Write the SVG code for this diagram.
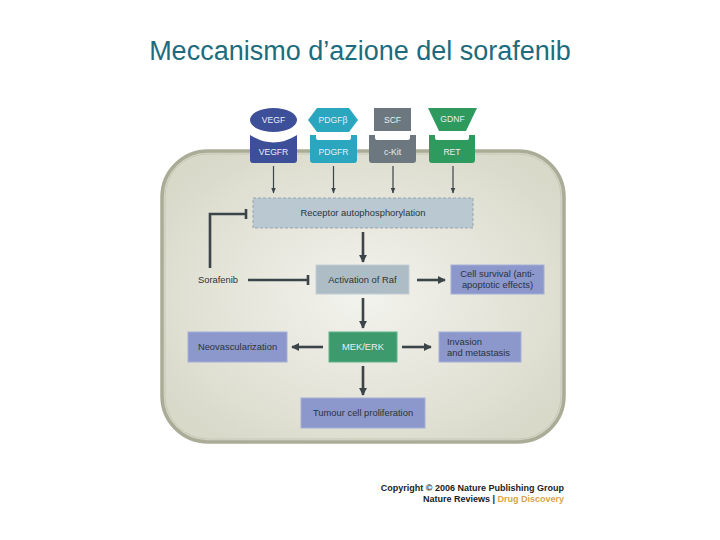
<svg xmlns="http://www.w3.org/2000/svg" width="720" height="540" viewBox="0 0 720 540">
<defs>
<radialGradient id="cellg" cx="50%" cy="50%" r="60%">
<stop offset="0" stop-color="#f3f3ee"/>
<stop offset="1" stop-color="#d9d9ca"/>
</radialGradient>
<marker id="ah" viewBox="0 0 10 10" refX="9" refY="5" markerWidth="3.2" markerHeight="3.2" orient="auto">
<path d="M0,0 L10,5 L0,10 Z" fill="#3b4448"/>
</marker>
<marker id="ahs" viewBox="0 0 10 10" refX="9" refY="5" markerWidth="5" markerHeight="5" orient="auto">
<path d="M0,1 L10,5 L0,9 Z" fill="#3b4448"/>
</marker>
</defs>
<style>
.t{font-family:"Liberation Sans",Arial,sans-serif;font-size:9.4px;fill:#2d3438}
.tw{font-family:"Liberation Sans",Arial,sans-serif;font-size:8.6px;fill:#e8eef4}
.c{stroke:#3b4448;stroke-width:2.6;fill:none}
.cs{stroke:#3b4448;stroke-width:1.2;fill:none}
.purple{fill:#8c97cc;stroke:#a6afd8;stroke-width:1}
</style>
<rect width="720" height="540" fill="#ffffff"/>
<text x="360" y="60" text-anchor="middle" font-family="Liberation Sans,Arial,sans-serif" font-size="27" fill="#1d6c7e">Meccanismo d’azione del sorafenib</text>

<g id="cell">
<rect x="162" y="151" width="402" height="291" rx="46" ry="46" fill="url(#cellg)" stroke="#abac97" stroke-width="3.5"/>
<rect x="165" y="154" width="396" height="285" rx="43" ry="43" fill="none" stroke="#c8c8b6" stroke-width="1"/>
</g>

<g id="ligands">
<g id="VEGF"><ellipse cx="273.5" cy="120" rx="23.5" ry="12" fill="#3d4f98"/><text class="tw" x="273.5" y="123" text-anchor="middle">VEGF</text></g>
<g id="PDGFb"><path d="M308,120 L317,108 L349,108 L358,120 L349,132 L317,132 Z" fill="#2aa6bf"/><text class="tw" x="333" y="123" text-anchor="middle">PDGFβ</text></g>
<g id="SCF"><rect x="374" y="108" width="37" height="23" fill="#6c777f"/><text class="tw" x="392.5" y="123" text-anchor="middle">SCF</text></g>
<g id="GDNF"><path d="M428,108 L477,108 L466,131 L439,131 Z" fill="#2f9a5e"/><text class="tw" x="452.5" y="122" text-anchor="middle">GDNF</text></g>
</g>

<g id="receptors">
<g id="VEGFR"><path d="M250,135 Q273.5,150 297,135 L297,160 Q297,163 294,163 L253,163 Q250,163 250,160 Z" fill="#3d4f98"/><text class="tw" x="273.5" y="155" text-anchor="middle">VEGFR</text></g>
<g id="PDGFR"><path d="M310,135 L316,135 L316,138 Q316,140 318,140 L349,140 Q351,140 351,138 L351,135 L357,135 L357,160 Q357,163 354,163 L313,163 Q310,163 310,160 Z" fill="#2aa6bf"/><text class="tw" x="333.5" y="155" text-anchor="middle">PDGFR</text></g>
<g id="cKit"><path d="M369,135 L375,135 L375,138 Q375,140 377,140 L408,140 Q410,140 410,138 L410,135 L416,135 L416,160 Q416,163 413,163 L372,163 Q369,163 369,160 Z" fill="#6c777f"/><text class="tw" x="392.5" y="155" text-anchor="middle">c-Kit</text></g>
<g id="RET"><path d="M429,135 L435,135 L435,138 Q435,140 437,140 L467,140 Q469,140 469,138 L469,135 L475,135 L475,160 Q475,163 472,163 L432,163 Q429,163 429,160 Z" fill="#2f9a5e"/><text class="tw" x="452" y="155" text-anchor="middle">RET</text></g>
</g>

<g id="connectors">
<line class="cs" x1="273.5" y1="166" x2="273.5" y2="193" marker-end="url(#ahs)"/>
<line class="cs" x1="333.5" y1="166" x2="333.5" y2="193" marker-end="url(#ahs)"/>
<line class="cs" x1="393" y1="166" x2="393" y2="193" marker-end="url(#ahs)"/>
<line class="cs" x1="453" y1="166" x2="453" y2="193" marker-end="url(#ahs)"/>
<line class="c" x1="363" y1="232" x2="363" y2="262" marker-end="url(#ah)"/>
<line class="c" x1="363" y1="298" x2="363" y2="328" marker-end="url(#ah)"/>
<line class="c" x1="363" y1="366" x2="363" y2="395" marker-end="url(#ah)"/>
<line class="c" x1="417" y1="280" x2="445" y2="280" marker-end="url(#ah)"/>
<line class="c" x1="402" y1="347" x2="431" y2="347" marker-end="url(#ah)"/>
<line class="c" x1="323" y1="347" x2="292" y2="347" marker-end="url(#ah)"/>
<path class="c" d="M248,280 L308,280 M308,275 L308,285"/>
<path class="c" d="M210,268 L210,214 L246,214 M246,209 L246,219"/>
</g>

<g id="receptor-autophosphorylation">
<rect x="253" y="198" width="220" height="30" fill="#b9c8d1" stroke="#8a9aa4" stroke-width="0.8" stroke-dasharray="3,2"/>
<text class="t" x="363" y="216" text-anchor="middle">Receptor autophosphorylation</text>
</g>
<g id="sorafenib"><text class="t" x="218" y="283" text-anchor="middle">Sorafenib</text></g>
<g id="raf">
<rect x="316" y="265" width="93" height="29" fill="#aebdc5" stroke="#c2ced4" stroke-width="1"/>
<text class="t" x="362.5" y="283" text-anchor="middle">Activation of Raf</text>
</g>
<g id="cell-survival">
<rect class="purple" x="451" y="265" width="93" height="29"/>
<text class="t" x="497.5" y="277" text-anchor="middle">Cell survival (anti-</text>
<text class="t" x="497.5" y="288" text-anchor="middle">apoptotic effects)</text>
</g>
<g id="mek-erk">
<rect x="329" y="332" width="68" height="30" fill="#3c9a6c" stroke="#5fb48a" stroke-width="1"/>
<text class="tw" x="363" y="350" text-anchor="middle" style="font-size:9.4px">MEK/ERK</text>
</g>
<g id="neovascularization">
<rect class="purple" x="188" y="332" width="99" height="30"/>
<text class="t" x="237.5" y="350" text-anchor="middle">Neovascularization</text>
</g>
<g id="invasion">
<rect class="purple" x="439" y="332" width="82" height="30"/>
<text class="t" x="447" y="345">Invasion</text>
<text class="t" x="447" y="356">and metastasis</text>
</g>
<g id="tumour">
<rect class="purple" x="301" y="398" width="124" height="30"/>
<text class="t" x="363" y="416" text-anchor="middle">Tumour cell proliferation</text>
</g>

<g id="copyright">
<text x="564" y="491" text-anchor="end" font-family="Liberation Sans,Arial,sans-serif" font-size="9" font-weight="bold" fill="#222">Copyright © 2006 Nature Publishing Group</text>
<text x="564" y="502" text-anchor="end" font-family="Liberation Sans,Arial,sans-serif" font-size="9" font-weight="bold" fill="#222">Nature Reviews | <tspan fill="#d8a44a">Drug Discovery</tspan></text>
</g>
</svg>
